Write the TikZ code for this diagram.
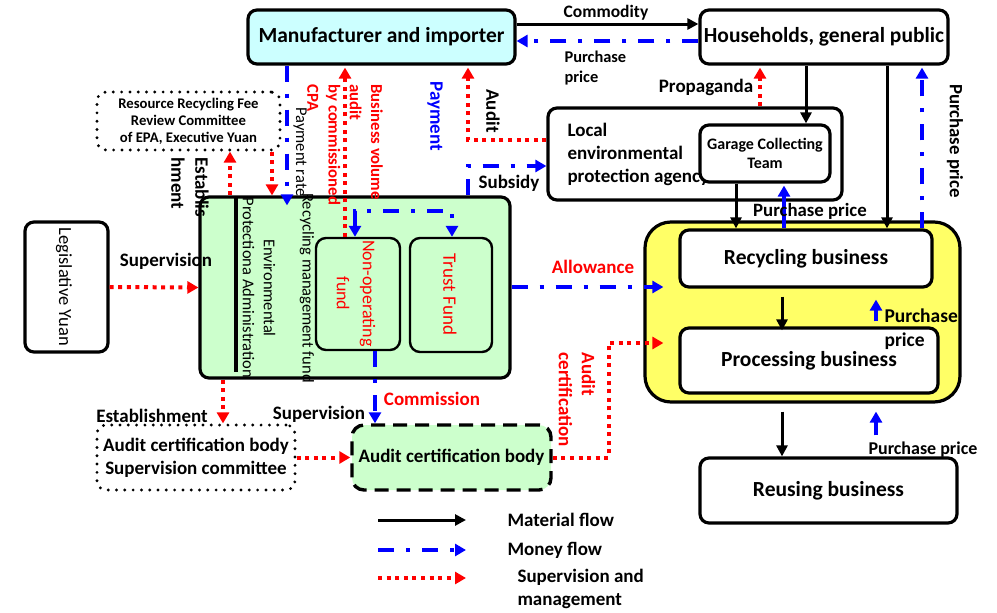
\documentclass[tikz,border=0pt]{standalone}
\usepackage{fontspec}
\setmainfont{Carlito}
\usetikzlibrary{arrows.meta}
\definecolor{cyf}{HTML}{CCFFFF}
\definecolor{grf}{HTML}{CCFFCC}
\definecolor{yef}{HTML}{FFFF66}
\definecolor{rd}{HTML}{FF0000}
\definecolor{bl}{HTML}{0000FF}
\tikzset{
  box/.style={draw, line width=3.2pt, rounded corners=9pt, inner sep=0pt, align=center},
  ibox/.style={draw, line width=2.4pt, rounded corners=10pt, inner sep=0pt},
  dotbox/.style={draw, line width=3.2pt, rounded corners=9pt, line cap=round, dash pattern=on 0pt off 8.3pt, inner sep=0pt, align=center},
  dashbox/.style={draw, line width=3.4pt, rounded corners=12pt, dash pattern=on 14pt off 8pt, inner sep=0pt},
  mat/.style={line width=3pt, -{Triangle[length=11pt,width=11pt]}},
  money/.style={bl, line width=3.8pt, dash pattern=on 16pt off 12pt on 4pt off 12pt, -{Triangle[length=11pt,width=12pt]}},
  moneys/.style={bl, line width=3.8pt, -{Triangle[length=11pt,width=12pt]}},
  sup/.style={rd, line width=4pt, dash pattern=on 4pt off 4.6pt, -{Triangle[length=11pt,width=12pt]}},
  big/.style={font=\bfseries\fontsize{21.5}{25}\selectfont},
  mid/.style={font=\bfseries\fontsize{19}{23}\selectfont},
  lab/.style={font=\bfseries\fontsize{19}{23}\selectfont},
  reg/.style={font=\fontsize{16.5}{21}\selectfont},
}
\begin{document}
\begin{tikzpicture}[x=1pt,y=-1pt]
\useasboundingbox (0,0) rectangle (997,613);

% ---- boxes ----
\node[box, fill=cyf, minimum width=267pt, minimum height=54pt, big] (man) at (381.5,37) {Manufacturer and importer};
\node[box, fill=white, minimum width=248pt, minimum height=54pt, big] (hh) at (824,37) {Households, general public};
\node[dotbox, minimum width=183pt, minimum height=58pt, font=\bfseries\fontsize{14.7}{17}\selectfont] (rrc) at (188.5,121) {Resource Recycling Fee\\Review Committee\\of EPA, Executive Yuan};
\node[box, fill=white, minimum width=294pt, minimum height=92pt] (local) at (695,154) {};
\node[mid, align=left, anchor=west] (localtxt) at (564,154) {Local\\environmental\\protection agency};
\node[box, fill=white, minimum width=130pt, minimum height=57pt, font=\bfseries\fontsize{16}{19}\selectfont] (garage) at (765,153.5) {Garage Collecting\\Team};

\node[box, fill=grf, minimum width=310pt, minimum height=181pt] (epa) at (355,287.5) {};
\draw[line width=3.2pt] (236,197) -- (236,372);
\node[reg, rotate=-90, align=center] (epatxt) at (259,288) {Environmental\\Protectiona Administration};
\node[reg, rotate=-90] (rmf) at (307,288) {Recycling management fund};
\node[ibox, fill=grf, minimum width=84pt, minimum height=112pt] (nof) at (358,294) {};
\node[rotate=-90, text=rd, align=center, font=\fontsize{18}{26}\selectfont] (noftxt) at (356,293.5) {Non-operating\\fund};
\node[ibox, fill=grf, minimum width=82pt, minimum height=114pt] (tf) at (451,295) {};
\node[rotate=-90, text=rd, font=\fontsize{19}{22}\selectfont] (tftxt) at (450,294.5) {Trust Fund};

\node[box, fill=white, minimum width=83pt, minimum height=130pt] (legis) at (66.5,287) {};
\node[rotate=-90, font=\fontsize{18.5}{22}\selectfont] (legtxt) at (64,287) {Legislative Yuan};

\node[box, fill=yef, rounded corners=26pt, minimum width=315pt, minimum height=180pt] (yel) at (802.5,312) {};
\node[box, fill=white, minimum width=252pt, minimum height=57pt, big] (recyc) at (806,258.5) {Recycling business};
\node[box, fill=white, minimum width=258pt, minimum height=65pt, big] (proc) at (809,360.5) {Processing business};
\node[box, fill=white, minimum width=257pt, minimum height=65pt, big] (reuse) at (828.5,490.5) {Reusing business};

\node[dashbox, fill=grf, minimum width=199pt, minimum height=65pt, mid] (acb) at (451.5,457.5) {Audit certification body};
\node[dotbox, minimum width=198pt, minimum height=65pt, mid] (acsc) at (196,457.5) {Audit certification body\\Supervision committee};

% ---- connectors top ----
\draw[mat] ([yshift=13pt]man.east) -- ([yshift=13pt]hh.west);
\node[font=\bfseries\fontsize{17.5}{21}\selectfont] (lcom) at (606,13) {Commodity};
\draw[money] ([yshift=-4pt]hh.west) -- ([yshift=-4pt]man.east);
\node[align=left, anchor=west, font=\bfseries\fontsize{16.4}{20}\selectfont] (lpp1) at (561,68) {Purchase\\price};

\draw[money] ([xshift=-94.5pt]man.south) -- ([xshift=-68pt,yshift=-10pt]epa.north);
\node[reg, rotate=-90] (lpr) at (300,152) {Payment rate};
\draw[sup] ([xshift=-13pt]nof.north) -- ([xshift=-36.5pt,yshift=-2pt]man.south);
\node[rotate=-90, text=rd, align=left, anchor=west, font=\bfseries\fontsize{16.7}{21.3}\selectfont] (lbv) at (345,81) {Business volume\\audit\\by commissioned\\CPA};
\node[rotate=-90, text=bl, font=\bfseries\fontsize{19}{22}\selectfont] (lpay) at (435,116) {Payment};
\draw[sup] ([yshift=14pt]local.west) -| ([xshift=86.5pt,yshift=-2pt]man.south);
\node[rotate=-90, lab] (laud) at (493,111) {Audit};
\draw[money] ([xshift=113pt]epa.north) |- ([yshift=-12pt]local.west);
\node[lab] (lsub) at (509,183) {Subsidy};
\draw[money, {Triangle[length=11pt,width=12pt]}-{Triangle[length=11pt,width=12pt]}] ([xshift=-3pt]nof.north) |- ([xshift=1pt,yshift=26pt]tf.north) -- ([xshift=1pt]tf.north);

\draw[sup] ([xshift=-125pt]epa.north) -- ([xshift=41.5pt]rrc.south);
\draw[sup] ([xshift=83.5pt]rrc.south) -- ([xshift=-83pt]epa.north);
\node[rotate=-90, align=left, anchor=west, font=\bfseries\fontsize{19}{24}\selectfont] (lest) at (190,154) {Establis\\hment};

\draw[sup] (legis.east) -- (epa.west);
\node[lab] (lsup1) at (166,261) {Supervision};
\draw[money] ([yshift=0.5pt]epa.east) -- ([xshift=20pt,yshift=25pt]yel.west);
\node[lab, text=rd] (lall) at (593,267) {Allowance};

% ---- bottom left ----
\draw[sup] ([xshift=-132pt]epa.south) -- ([xshift=27pt]acsc.north);
\node[lab] (lest2) at (152,416) {Establishment};
\draw[sup] (acsc.east) -- (acb.west);
\draw[money] ([xshift=17pt]nof.south) -- ([xshift=-76.5pt]acb.north);
\node[lab] (lsup2) at (319,414) {Supervision};
\node[lab, text=rd] (lcomm) at (432,399) {Commission};
\draw[sup] (acb.east) -- ++(56,0) |- ([xshift=20pt,yshift=-31pt]yel.west);
\node[rotate=-90, text=rd, align=left, anchor=west, font=\bfseries\fontsize{19}{23}\selectfont] (lac) at (577,349) {Audit\\certification};

% ---- right side ----
\draw[mat] ([xshift=-18pt]hh.south) -- ([xshift=41pt]garage.north);
\draw[sup] ([xshift=65pt]local.north) -- ([xshift=-64pt,yshift=-2pt]hh.south);
\node[lab] (lprop) at (706,87) {Propaganda};
\draw[mat] ([xshift=-29pt]garage.south) -- ([xshift=-70pt]recyc.north);
\draw[mat] ([xshift=63pt]hh.south) -- ([xshift=81pt]recyc.north);
\draw[moneys] ([xshift=-22pt]recyc.north) -- ([xshift=19pt,yshift=-2pt]garage.south);
\node[font=\bfseries\fontsize{18.8}{22}\selectfont] (lpp2) at (810,211) {Purchase price};
\draw[money] ([xshift=116pt]recyc.north) -- ([xshift=98pt,yshift=-2pt]hh.south);
\node[rotate=-90, font=\bfseries\fontsize{18.8}{22}\selectfont] (lpp3) at (955,141) {Purchase price};

\draw[mat] ([xshift=-24pt,yshift=-8pt]recyc.south) -- ([xshift=-27pt,yshift=-4pt]proc.north);
\draw[moneys] ([xshift=67pt,yshift=5pt]proc.north) -- ([xshift=70pt,yshift=-11pt]recyc.south);
\node[align=left, anchor=west, font=\bfseries\fontsize{19.5}{24}\selectfont] (lpp4) at (881,329) {Purchase\\price};
\draw[mat] ([xshift=-20.5pt,yshift=-8pt]yel.south) -- ([xshift=-46.5pt]reuse.north);
\draw[moneys] ([xshift=47.5pt,yshift=21pt]reuse.north) -- ([xshift=73.5pt,yshift=-8pt]yel.south);
\node[font=\bfseries\fontsize{18}{22}\selectfont] (lpp5) at (923,450) {Purchase price};

% ---- legend ----
\coordinate (m1) at (378,520); \coordinate (m2) at (466,520);
\coordinate (n1) at (378,550); \coordinate (n2) at (466,550);
\coordinate (s1) at (378,578); \coordinate (s2) at (466,578);
\draw[mat] (m1) -- (m2);
\draw[money] (n1) -- (n2);
\draw[sup] (s1) -- (s2);
\node[lab, anchor=west] (lg1) at (504,520) {Material flow};
\node[lab, anchor=west] (lg2) at (504,550) {Money flow};
\node[lab, anchor=west, align=left] (lg3) at (514,589) {Supervision and\\management};
\end{tikzpicture}
\end{document}
